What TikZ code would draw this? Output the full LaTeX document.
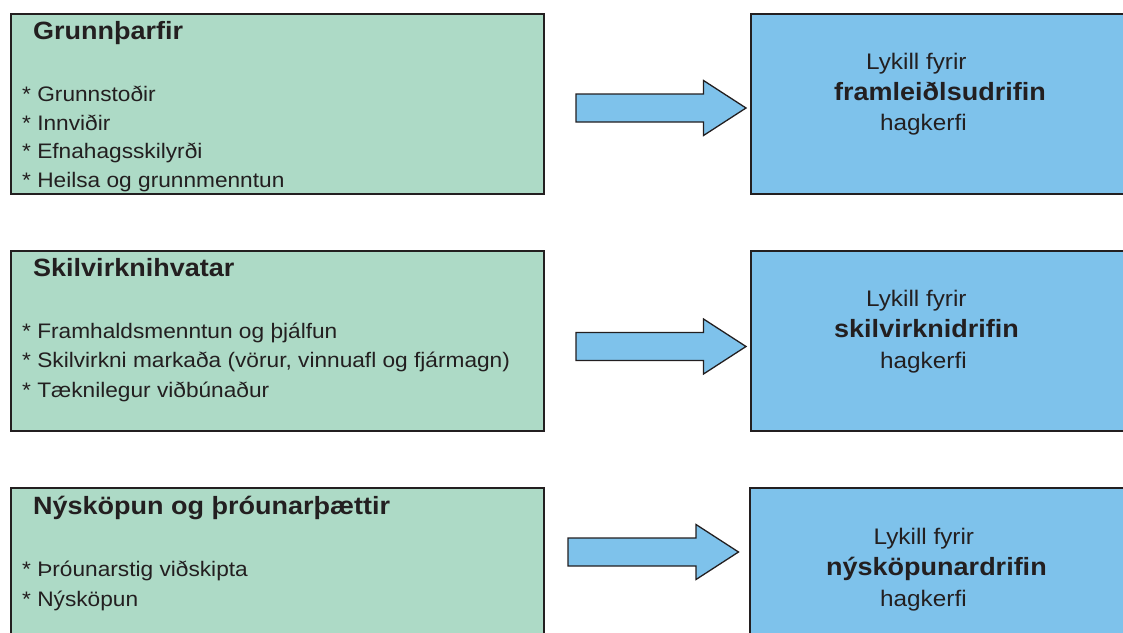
\documentclass[tikz,border=0pt]{standalone}
\usepackage{fontspec}
\setmainfont{Liberation Sans}[FakeStretch=1.08]
\usetikzlibrary{calc,positioning}
\definecolor{mint}{RGB}{173,218,198}
\definecolor{sky}{RGB}{126,194,235}
\definecolor{ink}{RGB}{35,31,32}
\newcommand{\blockarrow}[2]{%
  \draw[push] ($(#1)+(0,-14)$) -- ($(#2)+(-42.5,-14)$) -- ($(#2)+(-42.5,-27.5)$) -- (#2)
    -- ($(#2)+(-42.5,27.5)$) -- ($(#2)+(-42.5,14)$) -- ($(#1)+(0,14)$) -- cycle;}

\begin{document}
\begin{tikzpicture}[x=1pt, y=-1pt, text=ink, font=\fontsize{21}{29}\selectfont,
    needs/.style = {draw=ink, fill=mint, line width=2pt, anchor=north west, inner sep=0pt, minimum width=533pt, minimum height=180pt},
    driver/.style = {needs, fill=sky, minimum width=440pt},
    head/.style = {anchor=base west, inner sep=0pt, font=\fontsize{25}{30}\selectfont\bfseries},
    item/.style = {anchor=base west, inner sep=0pt},
    key/.style = {anchor=base west, inner sep=0pt, font=\fontsize{22.5}{27}\selectfont},
    keybold/.style = {key, font=\fontsize{25}{30}\selectfont\bfseries},
    push/.style = {draw=ink, fill=sky, line width=1.3pt, line join=miter}]
    \useasboundingbox (0,0) rectangle (1123,632);
    \clip (0,0) rectangle (1123,632);
    \node[needs] (g1) at (10,13) {};
    \node[needs] (g2) at (10,250) {};
    \node[needs] (g3) at (10,487) {};
    \node[driver] (d1) at (750,13) {};
    \node[driver] (d2) at (750,250) {};
    \node[driver] (d3) at (749,487) {};
    \node[head] (t1) at (33,39) {Grunnþarfir};
    \foreach \t [count=\i] in {Grunnstoðir, Innviðir, Efnahagsskilyrði, Heilsa og grunnmenntun}
        \node[item] (i1\i) at (22,73+28.6*\i) {* \t};
    \node[head] (t2) at (33,276) {Skilvirknihvatar};
    \foreach \t [count=\i] in {Framhaldsmenntun og þjálfun, {Skilvirkni markaða (vörur, vinnuafl og fjármagn)}, Tæknilegur viðbúnaður}
        \node[item] (i2\i) at (22,308.5+29.5*\i) {* \t};
    \node[head] (t3) at (33,514) {Nýsköpun og þróunarþættir};
    \foreach \t [count=\i] in {Þróunarstig viðskipta, Nýsköpun}
        \node[item] (i3\i) at (22,546+30*\i) {* \t};
    \node[key] (k1) at (866,69) {Lykill fyrir};
    \node[keybold] (b1) at (834,100) {framleiðlsudrifin};
    \node[key] (h1) at (880,130) {hagkerfi};
    \node[key] (k2) at (866,306.5) {Lykill fyrir};
    \node[keybold] (b2) at (834,337.5) {skilvirknidrifin};
    \node[key] (h2) at (880,368) {hagkerfi};
    \node[key] (k3) at (873.5,544) {Lykill fyrir};
    \node[keybold] (b3) at (826,575) {nýsköpunardrifin};
    \node[key] (h3) at (880,606) {hagkerfi};
    \coordinate (a1) at (576,108);
    \coordinate (p1) at (746,108);
    \coordinate (a2) at (576,346.5);
    \coordinate (p2) at (746,346.5);
    \coordinate (a3) at (568,552);
    \coordinate (p3) at (738.5,552);
    \blockarrow{a1}{p1}
    \blockarrow{a2}{p2}
    \blockarrow{a3}{p3}
\end{tikzpicture}
\end{document}
